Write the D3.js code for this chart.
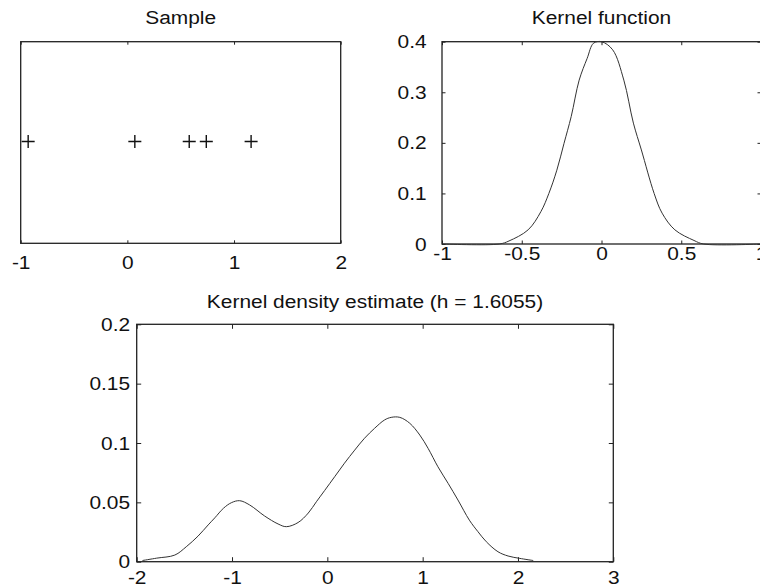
<!DOCTYPE html>
<html>
<head>
<meta charset="utf-8">
<script src="https://cdn.jsdelivr.net/npm/d3@7"></script>
<style>
  html, body { margin: 0; padding: 0; background: #fff; }
  svg { display: block; }
  text { font-family: "Liberation Sans", Arial, Helvetica, sans-serif; fill: #111; }
</style>
</head>
<body>
<svg id="fig" width="760" height="588"></svg>
<script>
// Observed sample points
const sampleX = [-0.93, 0.07, 0.58, 0.74, 1.16];

// Kernel function curve
const kernelX = [-1, -0.64, -0.58, -0.46, -0.38, -0.33, -0.28, -0.235, -0.19, -0.14, -0.09, -0.05, 0,
                 0.07, 0.14, 0.2, 0.25, 0.33, 0.38, 0.46, 0.58, 0.64, 1];
const kernelY = [0, 0, 0.006, 0.028, 0.064, 0.1, 0.146, 0.199, 0.252, 0.324, 0.367, 0.397, 0.4,
                 0.384, 0.324, 0.239, 0.186, 0.1, 0.061, 0.028, 0.007, 0, 0];

// Kernel density estimate curve
const kdeX = [-1.94, -1.79, -1.6, -1.48, -1.356, -1.25, -1.18, -1.09, -1.007, -0.92, -0.815, -0.658,
              -0.517, -0.43, -0.307, -0.2, -0.115, -0.028, 0.077, 0.18, 0.287, 0.39, 0.496, 0.6,
              0.67, 0.76, 0.865, 0.97, 1.057, 1.16, 1.267, 1.37, 1.49, 1.58, 1.668, 1.79, 1.896,
              2.019, 2.16];
const kdeY = [0.001, 0.003, 0.0056, 0.0126, 0.0216, 0.031, 0.037, 0.045, 0.0497, 0.0514, 0.0478, 0.0385,
              0.0318, 0.0295, 0.033, 0.041, 0.0505, 0.06, 0.0716, 0.083, 0.094, 0.104, 0.1124, 0.1194,
              0.1216, 0.1216, 0.1166, 0.1067, 0.0955, 0.08, 0.066, 0.052, 0.035, 0.0253, 0.0168, 0.0084,
              0.0048, 0.0028, 0.001];

// Tick values
const sampleTicksX = [-1, 0, 1, 2];
const kernelTicksX = [-1, -0.5, 0, 0.5, 1];
const kernelTicksY = [0, 0.1, 0.2, 0.3, 0.4];
const kdeTicksX = [-2, -1, 0, 1, 2, 3];
const kdeTicksY = [0, 0.05, 0.1, 0.15, 0.2];

const titles = ["Sample", "Kernel function", "Kernel density estimate (h = 1.6055)"];

const svg = d3.select("#fig");
const FONT = 19;
const STRETCH = 1.1;   // slightly wide lettering
const fmt = d => String(+d.toFixed(4)); // plain hyphen-minus labels

function panel(cfg) {
  const g = svg.append("g");
  const [x0, x1] = cfg.x.range();
  const [y0, y1] = cfg.y.range(); // y0 bottom, y1 top

  // bottom axis with labels, inward ticks
  const bx = g.append("g").attr("transform", `translate(0,${y0})`)
    .call(d3.axisBottom(cfg.x).tickValues(cfg.xt).tickSize(-cfg.tick).tickPadding(cfg.xpad).tickFormat(fmt));
  // top axis, ticks only
  const tx = g.append("g").attr("transform", `translate(0,${y1})`)
    .call(d3.axisTop(cfg.x).tickValues(cfg.xt).tickSize(-cfg.tick).tickFormat(""));
  const axes = [bx, tx];
  if (cfg.yt) {
    const ly = g.append("g").attr("transform", `translate(${x0},0)`)
      .call(d3.axisLeft(cfg.y).tickValues(cfg.yt).tickSize(-cfg.tick).tickPadding(cfg.ypad).tickFormat(fmt));
    const ry = g.append("g").attr("transform", `translate(${x1},0)`)
      .call(d3.axisRight(cfg.y).tickValues(cfg.yt).tickSize(-cfg.tick).tickFormat(""));
    axes.push(ly, ry);
  }
  axes.forEach(a => {
    a.select(".domain").remove();
    a.selectAll(".tick line").attr("stroke", "#222").attr("stroke-width", 1);
    a.selectAll(".tick text")
      .attr("font-size", FONT)
      .attr("font-family", "Liberation Sans, Arial, sans-serif")
      .attr("fill", "#111")
      .attr("transform", `scale(${STRETCH},1)`);
  });

  // frame
  g.append("rect")
    .attr("x", x0).attr("y", y1)
    .attr("width", x1 - x0).attr("height", y0 - y1)
    .attr("fill", "none").attr("stroke", "#222").attr("stroke-width", 1.3);

  // title
  g.append("text")
    .attr("transform", `translate(${(x0 + x1) / 2},${cfg.titleY}) scale(${STRETCH},1)`)
    .attr("text-anchor", "middle").attr("font-size", FONT)
    .text(cfg.title);
  return g;
}

// Panel 1: sample
const sx = d3.scaleLinear([-1, 2], [20.7, 340.7]);
const sy = d3.scaleLinear([-1, 1], [243.3, 41.7]);
const p1 = panel({ x: sx, y: sy, xt: sampleTicksX, tick: 3, xpad: 12, title: titles[0], titleY: 24 });
const half = 6.5;
p1.append("g").selectAll("path").data(sampleX).join("path")
  .attr("d", d => {
    const cx = sx(d), cy = sy(0.01);
    return `M${cx - half},${cy}H${cx + half}M${cx},${cy - half}V${cy + half}`;
  })
  .attr("stroke", "#111").attr("stroke-width", 1.4).attr("fill", "none");

// Panel 2: kernel function
const kx = d3.scaleLinear([-1, 1], [442, 761]);
const ky = d3.scaleLinear([0, 0.4], [244, 41.7]);
const p2 = panel({ x: kx, y: ky, xt: kernelTicksX, yt: kernelTicksY, tick: 3.5, xpad: 2, ypad: 14, title: titles[1], titleY: 24 });
p2.append("path")
  .datum(d3.zip(kernelX, kernelY))
  .attr("d", d3.line().x(d => kx(d[0])).y(d => ky(d[1])).curve(d3.curveCatmullRom.alpha(0.5)))
  .attr("fill", "none").attr("stroke", "#333").attr("stroke-width", 1);

// Panel 3: kernel density estimate
const dx = d3.scaleLinear([-2, 3], [136.7, 613.3]);
const dy = d3.scaleLinear([0, 0.2], [561.7, 324.3]);
const p3 = panel({ x: dx, y: dy, xt: kdeTicksX, yt: kdeTicksY, tick: 4.5, xpad: 9, ypad: 6, title: titles[2], titleY: 308 });
p3.append("path")
  .datum(d3.zip(kdeX, kdeY))
  .attr("d", d3.line().x(d => dx(d[0])).y(d => dy(d[1])).curve(d3.curveCatmullRom.alpha(0.5)))
  .attr("fill", "none").attr("stroke", "#333").attr("stroke-width", 1);
</script>
</body>
</html>
